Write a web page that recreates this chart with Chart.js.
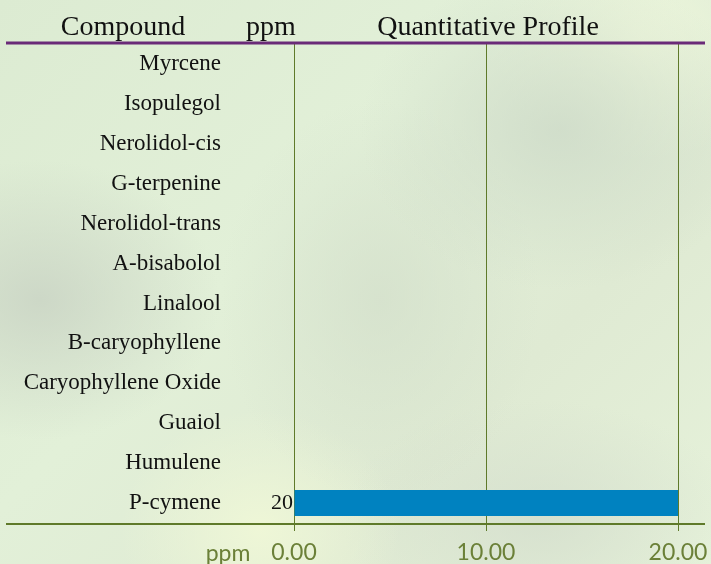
<!DOCTYPE html>
<html>
<head>
<meta charset="utf-8">
<script src="https://cdn.jsdelivr.net/npm/chart.js@4/dist/chart.umd.min.js"></script>
<style>
  html, body { margin: 0; padding: 0; }
  body {
    width: 711px; height: 564px; overflow: hidden;
    background:
      radial-gradient(ellipse 180px 140px at 40px 300px, rgba(200,210,195,0.8), rgba(200,210,195,0)),
      radial-gradient(ellipse 200px 160px at 560px 130px, rgba(205,218,200,0.8), rgba(205,218,200,0)),
      radial-gradient(ellipse 160px 200px at 380px 300px, rgba(210,222,202,0.7), rgba(210,222,202,0)),
      radial-gradient(ellipse 150px 120px at 640px 40px, rgba(238,247,220,0.9), rgba(238,247,220,0)),
      radial-gradient(ellipse 140px 120px at 260px 530px, rgba(240,248,215,0.9), rgba(240,248,215,0)),
      radial-gradient(ellipse 200px 120px at 540px 520px, rgba(212,222,205,0.8), rgba(212,222,205,0)),
      linear-gradient(135deg, #dcebd2 0%, #e2f0d8 40%, #dfead3 70%, #e6f2da 100%);
  }
  #wrap { position: absolute; left: 0; top: 0; width: 711px; height: 564px; }
</style>
</head>
<body>
<div id="wrap"><canvas id="c" width="711" height="564"></canvas></div>
<script>
const compounds = ["Myrcene", "Isopulegol", "Nerolidol-cis", "G-terpenine", "Nerolidol-trans",
  "A-bisabolol", "Linalool", "B-caryophyllene", "Caryophyllene Oxide", "Guaiol", "Humulene", "P-cymene"];
const ppmValues = [null, null, null, null, null, null, null, null, null, null, null, 20];
const ppmLabels = ["", "", "", "", "", "", "", "", "", "", "", "20"];
const xTicks = [0, 10, 20];

const green = "#5f7a2a";

// header, rules and value labels
const decor = {
  id: "decor",
  afterDraw(chart) {
    const ctx = chart.ctx;
    const area = chart.chartArea;
    ctx.save();
    ctx.fillStyle = "#111";
    ctx.font = "28px 'Liberation Serif', serif";
    ctx.textAlign = "center";
    ctx.textBaseline = "alphabetic";
    ctx.fillText("Compound", 123, 35);
    ctx.fillText("ppm", 271, 35);
    ctx.fillText("Quantitative Profile", 488, 35);

    ctx.strokeStyle = "#6a2a78";
    ctx.lineWidth = 3;
    ctx.beginPath();
    ctx.moveTo(6, 43);
    ctx.lineTo(705, 43);
    ctx.stroke();

    ctx.strokeStyle = green;
    ctx.lineWidth = 2;
    ctx.beginPath();
    ctx.moveTo(6, area.bottom + 1);
    ctx.lineTo(705, area.bottom + 1);
    ctx.stroke();

    // value labels
    const meta = chart.getDatasetMeta(0);
    ctx.font = "22px 'Liberation Serif', serif";
    ctx.textAlign = "right";
    ctx.textBaseline = "middle";
    ctx.fillStyle = "#111";
    meta.data.forEach((bar, i) => {
      if (!ppmLabels[i]) return;
      ctx.fillText(ppmLabels[i], area.left - 1, bar.y);
    });

    ctx.font = "23px Lato, 'Open Sans', sans-serif";
    ctx.fillStyle = "#6b8038";
    ctx.textAlign = "center";
    ctx.fillText("ppm", 228, 554);
    ctx.restore();
  }
};

new Chart(document.getElementById("c"), {
  type: "bar",
  data: {
    labels: compounds,
    datasets: [{
      data: ppmValues,
      backgroundColor: "#0082c0",
      barPercentage: 0.65,
      categoryPercentage: 1
    }]
  },
  options: {
    indexAxis: "y",
    responsive: false,
    animation: false,
    layout: { padding: { top: 44, right: 33, left: 0, bottom: 0 } },
    plugins: { legend: { display: false }, tooltip: { enabled: false } },
    scales: {
      x: {
        min: 0, max: 20,
        afterBuildTicks(scale) { scale.ticks = xTicks.map(v => ({ value: v })); },
        afterFit(scale) {
          scale.height = 41;
          scale.paddingLeft = 0;
          scale.paddingRight = 0;
        },
        grid: { color: green, lineWidth: 1, tickLength: 8, drawTicks: true },
        border: { display: false },
        ticks: {
          color: "#6b8038",
          font: { family: "Lato, 'Open Sans', sans-serif", size: 23 },
          padding: 8,
          maxRotation: 0,
          callback: v => Number(v).toFixed(2)
        }
      },
      y: {
        afterFit(scale) {
          scale.width = 294;
          scale.paddingTop = 0;
          scale.paddingBottom = 0;
        },
        grid: { display: false, drawTicks: false },
        border: { display: false },
        ticks: {
          color: "#111",
          font: { family: "'Liberation Serif', serif", size: 23 },
          padding: 73
        }
      }
    }
  },
  plugins: [decor]
});
</script>
</body>
</html>
